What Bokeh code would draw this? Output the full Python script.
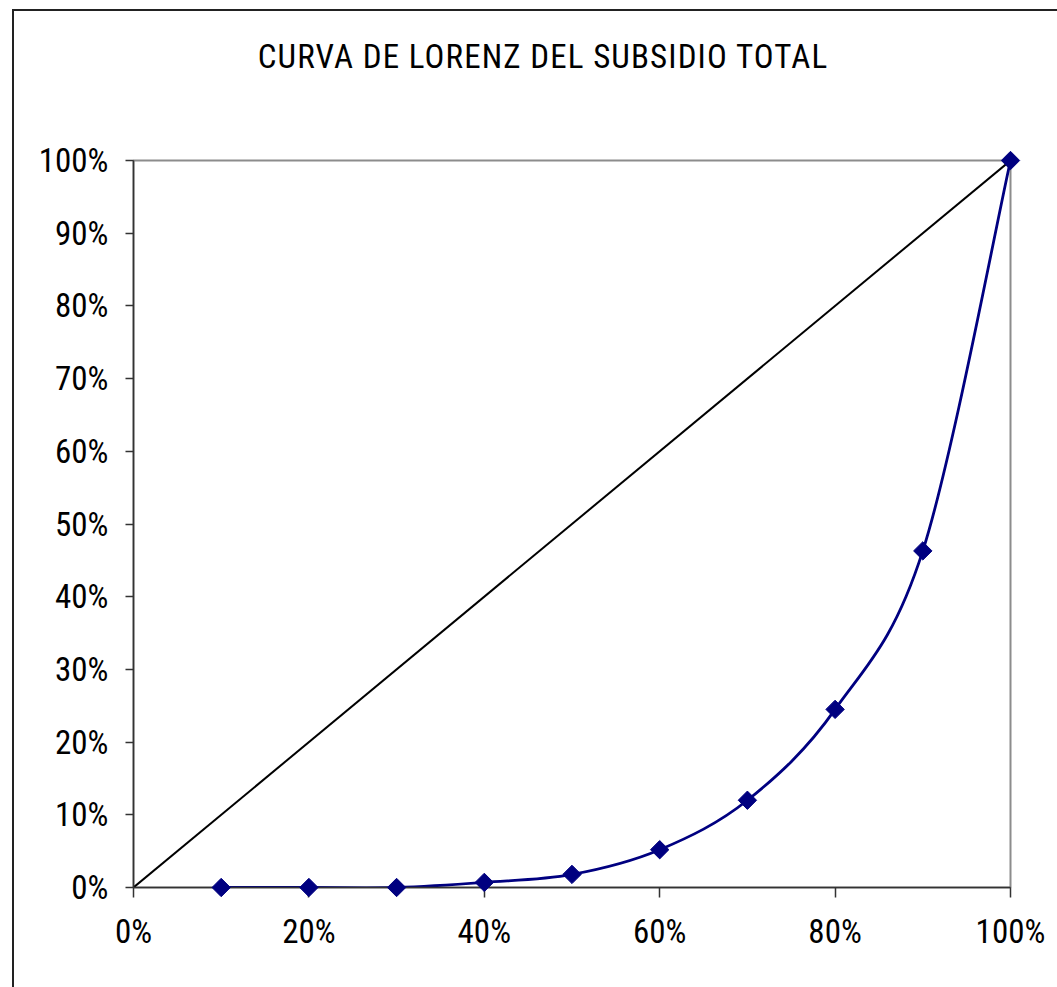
from bokeh.plotting import figure
from bokeh.models import Range1d, NumeralTickFormatter, FixedTicker, Div
from bokeh.layouts import column
from bokeh.embed import file_html
from bokeh.resources import INLINE

# Cumulative share of population (deciles) and cumulative share of total subsidy
population_share = [0.1, 0.2, 0.3, 0.4, 0.5, 0.6, 0.7, 0.8, 0.9, 1.0]
subsidy_share = [0.0, 0.0, 0.0, 0.007, 0.018, 0.052, 0.120, 0.245, 0.463, 1.0]

# Line of perfect equality
equality_x = [0.0, 1.0]
equality_y = [0.0, 1.0]

x_ticks = [0.0, 0.2, 0.4, 0.6, 0.8, 1.0]
y_ticks = [0.0, 0.1, 0.2, 0.3, 0.4, 0.5, 0.6, 0.7, 0.8, 0.9, 1.0]

title_text = "CURVA DE LORENZ DEL SUBSIDIO TOTAL"

FONT = "'Liberation Sans Narrow', 'Arial Narrow', 'Roboto Condensed', 'Liberation Sans', sans-serif"
NAVY = "#000080"

TITLE_H = 90

title = Div(
    text=title_text, width=1043, height=TITLE_H, margin=0,
    styles={
        "font-family": FONT, "font-size": "33px", "color": "black",
        "letter-spacing": "1.1px",
        "text-align": "center", "width": "1043px", "padding-left": "15px",
        "padding-top": "29px", "box-sizing": "border-box", "line-height": "1",
    },
)

p = figure(
    width=1043, height=976 - TITLE_H,
    frame_width=877, frame_height=727,
    min_border_left=119, min_border_top=149 - TITLE_H,
    min_border_right=47, min_border_bottom=100,
    x_range=Range1d(0, 1), y_range=Range1d(0, 1),
    output_backend="svg", toolbar_location=None, margin=0,
)

p.grid.visible = False
p.background_fill_color = "white"
p.border_fill_color = "white"
p.outline_line_color = "#8c8c8c"
p.outline_line_width = 2

for ax, ticks in ((p.xaxis, x_ticks), (p.yaxis, y_ticks)):
    ax.ticker = FixedTicker(ticks=ticks)
    ax.formatter = NumeralTickFormatter(format="0%")
    ax.minor_tick_line_color = None
    ax.major_tick_in = 0
    ax.axis_line_color = "#333333"
    ax.axis_line_width = 1.5
    ax.major_tick_line_color = "#333333"
    ax.major_tick_line_width = 1.5
    ax.major_label_text_font = FONT
    ax.major_label_text_font_size = "33px"
    ax.major_label_text_color = "black"

p.xaxis.major_tick_out = 10
p.xaxis.major_label_standoff = 14
p.yaxis.major_tick_out = 8
p.yaxis.major_label_standoff = 17

# Equality diagonal
p.line(equality_x, equality_y, line_color="black", line_width=2)

# Smoothed Lorenz curve: cubic Bezier segments with Catmull-Rom style tangents
n = len(population_share)
x0s, y0s, x1s, y1s, cx0s, cy0s, cx1s, cy1s = ([] for _ in range(8))
for i in range(n - 1):
    xa, ya = population_share[i], subsidy_share[i]
    xb, yb = population_share[i + 1], subsidy_share[i + 1]
    xp, yp = (population_share[i - 1], subsidy_share[i - 1]) if i > 0 else (xa, ya)
    xn, yn = (population_share[i + 2], subsidy_share[i + 2]) if i + 2 < n else (xb, yb)
    x0s.append(xa); y0s.append(ya)
    x1s.append(xb); y1s.append(yb)
    cx0s.append(xa + (xb - xp) / 6.0); cy0s.append(ya + (yb - yp) / 6.0)
    cx1s.append(xb - (xn - xa) / 6.0); cy1s.append(yb - (yn - ya) / 6.0)

p.bezier(x0=x0s, y0=y0s, x1=x1s, y1=y1s, cx0=cx0s, cy0=cy0s, cx1=cx1s, cy1=cy1s,
         line_color=NAVY, line_width=2.8)

# Diamond markers drawn on the overlay level so the corner point is not clipped
p.scatter(population_share, subsidy_share, marker="square", angle=0.785398,
          size=13, fill_color=NAVY, line_color=NAVY, line_width=1, level="overlay")

layout = column(
    title, p, margin=(9, 0, 0, 12), spacing=0,
    styles={"border-left": "2px solid #222222", "border-top": "2px solid #222222"},
)

open("out.html", "w").write(file_html(layout, INLINE))
